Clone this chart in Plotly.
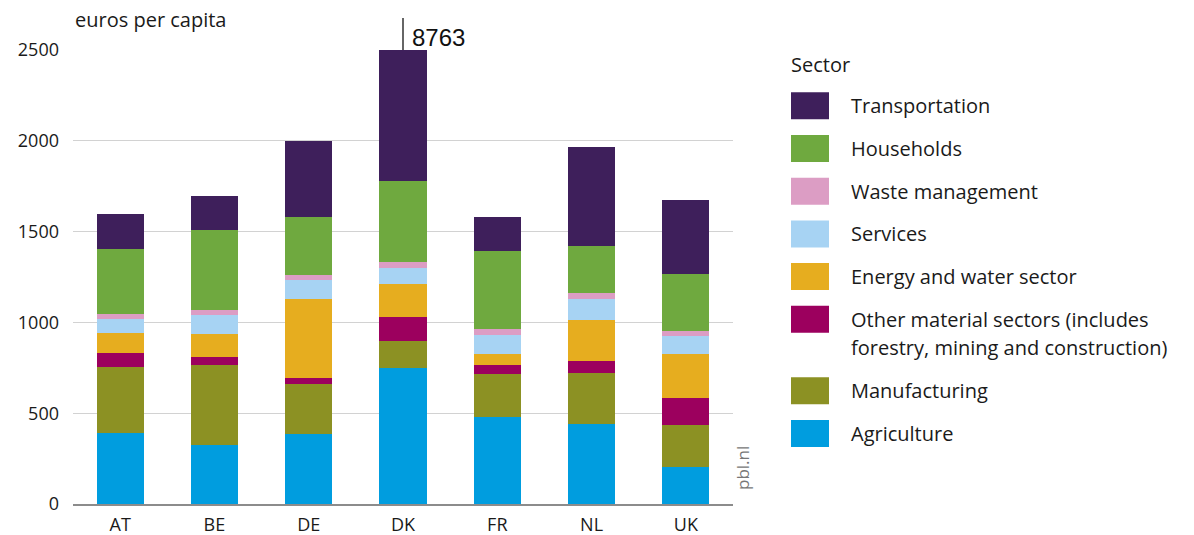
import plotly.graph_objects as go

countries = ["AT", "BE", "DE", "DK", "FR", "NL", "UK"]

agriculture = [389, 323, 384, 747, 479, 439, 204]
manufacturing = [367, 441, 275, 151, 237, 282, 233]
other_material = [77, 46, 35, 132, 49, 67, 145]
energy_water = [107, 124, 437, 180, 61, 224, 244]
services = [81, 109, 103, 88, 105, 117, 97]
waste = [25, 25, 25, 35, 31, 35, 28]
households = [356, 443, 320, 446, 431, 258, 313]
transportation = [195, 187, 420, 6984, 189, 542, 411]

dk_total_label = "8763"

series_names = [
    "Agriculture",
    "Manufacturing",
    "Other material sectors (includes<br>forestry, mining and construction)",
    "Energy and water sector",
    "Services",
    "Waste management",
    "Households",
    "Transportation",
]
series_values = [agriculture, manufacturing, other_material, energy_water,
                 services, waste, households, transportation]
series_colors = ["#009ddf", "#8c9123", "#9c005e", "#e6ad1f",
                 "#a7d3f3", "#dc9dc4", "#6fa93f", "#3e1f5b"]

y_ticks = [0, 500, 1000, 1500, 2000, 2500]

fig = go.Figure()
for name, vals, col in zip(series_names, series_values, series_colors):
    fig.add_trace(go.Bar(x=countries, y=vals, name=name.replace("<br>", " "),
                         marker=dict(color=col, line=dict(width=0)),
                         showlegend=False))

W, H = 1194, 535
L, R, T, B = 73, 733, 50, 504

def px(xp):
    return (xp - L) / (R - L)

def py(yp):
    return (B - yp) / (B - T)

font_main = "Open Sans"

fig.update_layout(
    width=W, height=H,
    margin=dict(l=L, r=W - R, t=T, b=H - B, autoexpand=False),
    barmode="stack", bargap=0.5,
    plot_bgcolor="white", paper_bgcolor="white",
    font=dict(family=font_main, size=18, color="#1a1a1a"),
    xaxis=dict(showgrid=False, showline=True, linecolor="#8c8c8c", linewidth=1.5,
               ticks="", tickfont=dict(size=18), ticklabelstandoff=4,
               automargin=False, fixedrange=True),
    yaxis=dict(range=[0, 2500], tickvals=y_ticks, showgrid=True,
               gridcolor="#d2d2d2", gridwidth=1, zeroline=False, showline=False,
               ticks="", tickfont=dict(size=18), ticklabelstandoff=13,
               automargin=False, fixedrange=True),
)

annotations = []
shapes = []

annotations.append(dict(text="euros per capita", x=px(73), y=py(19), xref="paper", yref="paper",
                        xanchor="left", yanchor="middle", showarrow=False,
                        font=dict(size=20, family=font_main)))

# DK off-scale marker
shapes.append(dict(type="line", xref="x", yref="paper", x0="DK", x1="DK",
                   y0=1, y1=py(18), line=dict(color="#333333", width=1.5)))
annotations.append(dict(text=dk_total_label, x="DK", y=py(37), xref="x", yref="paper",
                        xanchor="left", yanchor="middle", xshift=7, showarrow=False,
                        font=dict(size=24, family="Liberation Sans", color="#111111")))

# source
annotations.append(dict(text="pbl.nl", x=px(742), y=py(468), xref="paper", yref="paper",
                        xanchor="center", yanchor="middle", textangle=-90, showarrow=False,
                        font=dict(size=17, family=font_main, color="#777777")))

# custom legend
annotations.append(dict(text="Sector", x=px(789), y=py(64), xref="paper", yref="paper",
                        xanchor="left", yanchor="middle", showarrow=False,
                        font=dict(size=20, family=font_main)))
top = 92.3
pitch = 42.7
extra_line = 28.7
sw_w, sw_h = 38, 27
for name, col in zip(series_names[::-1], series_colors[::-1]):
    shapes.append(dict(type="rect", xref="paper", yref="paper",
                       x0=px(791), x1=px(791 + sw_w), y0=py(top), y1=py(top + sw_h),
                       fillcolor=col, line=dict(width=0)))
    lines = name.split("<br>")
    cy = top + sw_h / 2
    for i, ln in enumerate(lines):
        annotations.append(dict(text=ln, x=px(849), y=py(cy + i * extra_line),
                                xref="paper", yref="paper", xanchor="left", yanchor="middle",
                                showarrow=False, font=dict(size=20, family=font_main)))
    top += pitch + extra_line * (len(lines) - 1)

fig.update_layout(annotations=annotations, shapes=shapes)
fig.write_html("out.html", config={"displayModeBar": False},
               post_script="document.body.style.margin='0';document.body.style.padding='0';")
